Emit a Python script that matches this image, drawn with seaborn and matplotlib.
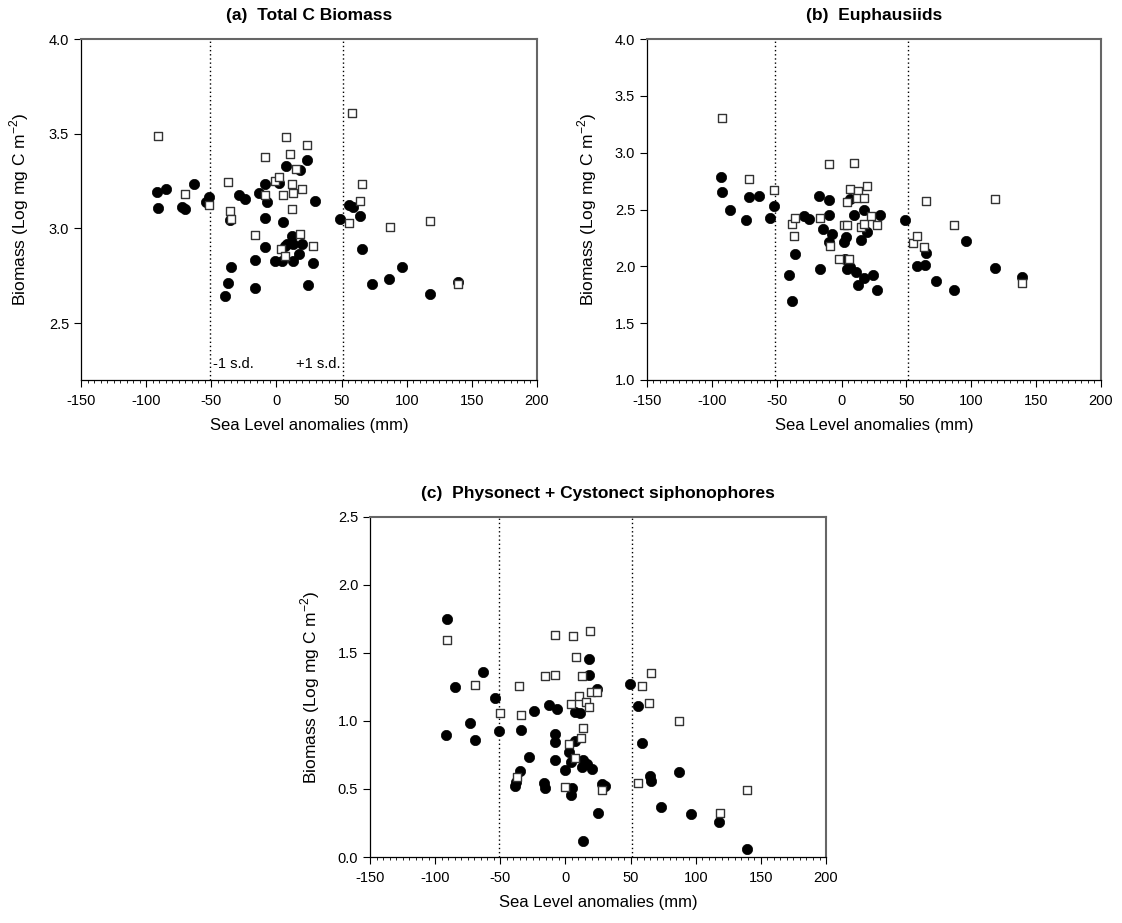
import numpy as np
import pandas as pd
import matplotlib
matplotlib.use("Agg")
import matplotlib.pyplot as plt
import seaborn as sns
from matplotlib.ticker import MultipleLocator, FormatStrFormatter

# ---- panel (a) Total C biomass ----
a_circ_x = [-91.9, -84.8, -63.3, -90.7, -72.7, -70.2, -51.5, -54.1, -35.6, -28.5, -24.1, -13.6,
            -8.6, -7.0, -8.8, 4.8, 2.2, 7.6, 18.1, 23.7, 29.8, -8.8, -16.7, -35.1, -37.2, -39.7,
            -16.2, -1.1, 4.3, 12.9, 17.5, 27.8, 24.5, 11.9, 7.9, 12.9, 19.8, 6.3, 49.0, 55.4,
            58.5, 64.1, 65.4, 73.1, 86.6, 96.4, 118.1, 139.1]
a_circ_y = [3.19, 3.21, 3.235, 3.108, 3.113, 3.105, 3.166, 3.138, 3.043, 3.175, 3.158, 3.188,
            3.237, 3.138, 3.055, 3.032, 3.24, 3.33, 3.31, 3.364, 3.147, 2.90, 2.835, 2.798, 2.713,
            2.644, 2.688, 2.826, 2.826, 2.83, 2.863, 2.819, 2.702, 2.958, 2.92, 2.92, 2.92, 2.91,
            3.052, 3.122, 3.112, 3.064, 2.891, 2.709, 2.734, 2.798, 2.656, 2.716]
a_sq_x = [-90.9, -70.2, -51.5, -37.4, -35.6, -35.1, -16.2, -8.8, -8.6, -1.4, 2.2, 4.8, 7.3, 10.2,
          15.0, 12.2, 12.5, 19.6, 23.4, 11.9, 17.8, 3.7, 6.6, 27.8, 58.2, 65.4, 63.9, 55.4, 86.9,
          118.1, 139.1]
a_sq_y = [3.49, 3.182, 3.124, 3.244, 3.09, 3.048, 2.965, 3.378, 3.177, 3.25, 3.27, 3.177, 3.483,
          3.391, 3.315, 3.237, 3.188, 3.209, 3.439, 3.103, 2.969, 2.893, 2.854, 2.907, 3.608,
          3.235, 3.147, 3.027, 3.007, 3.038, 2.705]

# ---- panel (b) Euphausiids ----
b_circ_x = [-93.2, -91.9, -85.8, -73.7, -71.1, -63.9, -54.9, -52.1, -40.8, -38.0, -35.9, -29.2,
            -24.9, -17.4, -16.9, -14.1, -9.5, -9.5, -7.7, -9.5, 2.1, 3.4, 2.9, 3.9, 6.5, 6.5, 9.6,
            11.4, 12.5, 14.8, 17.1, 17.3, 19.6, 24.0, 27.3, 29.4, 48.7, 57.9, 64.1, 65.1, 73.1,
            86.7, 96.2, 118.0, 139.1]
b_circ_y = [2.787, 2.652, 2.50, 2.404, 2.608, 2.623, 2.424, 2.535, 1.927, 1.696, 2.108, 2.447,
            2.418, 2.617, 1.976, 2.327, 2.582, 2.453, 2.283, 2.216, 2.213, 2.26, 2.061, 1.974,
            1.997, 2.594, 2.456, 1.953, 1.833, 2.234, 1.898, 2.50, 2.304, 1.924, 1.789, 2.453,
            2.412, 2.003, 2.015, 2.117, 1.871, 1.789, 2.225, 1.982, 1.91]
b_sq_x = [-91.9, -71.1, -52.3, -38.0, -35.9, -36.4, -16.9, -9.5, -9.2, -1.8, 1.6, 3.9, 5.9, 4.4,
          6.8, 9.6, 12.5, 11.9, 17.1, 19.4, 14.8, 17.3, 22.9, 27.3, 55.3, 58.2, 63.8, 65.1, 86.5,
          118.0, 139.1]
b_sq_y = [3.304, 2.772, 2.675, 2.374, 2.427, 2.263, 2.424, 2.898, 2.175, 2.067, 2.365, 2.365,
          2.061, 2.57, 2.684, 2.910, 2.667, 2.60, 2.60, 2.705, 2.348, 2.374, 2.441, 2.365, 2.204,
          2.269, 2.173, 2.579, 2.362, 2.596, 1.851]

# ---- panel (c) Physonect + Cystonect siphonophores ----
c_circ_x = [-63.3, -85.1, -54.2, -72.9, -91.7, -69.5, -51.1, -34.5, -35.0, -37.6, -39.1, -27.8,
            -23.8, -13.0, -6.6, -8.1, -8.4, -8.1, -16.6, -15.8, -0.5, 2.9, 4.6, 5.4, 4.4, 7.2,
            7.5, 10.8, 13.1, 12.6, 16.2, 20.5, 13.2, 24.7, 28.3, 30.1, 18.1, 17.8, 23.9, 49.2,
            55.9, 58.7, 64.6, 65.9, 73.3, 87.1, 96.5, 118.0, 139.3, -90.6]
c_circ_y = [1.363, 1.25, 1.169, 0.988, 0.895, 0.863, 0.926, 0.931, 0.632, 0.554, 0.522, 0.738,
            1.071, 1.115, 1.088, 0.902, 0.846, 0.713, 0.542, 0.505, 0.637, 0.772, 0.696, 0.505,
            0.456, 0.853, 1.064, 1.057, 0.713, 0.66, 0.682, 0.647, 0.115, 0.326, 0.539, 0.522,
            1.34, 1.456, 1.233, 1.274, 1.11, 0.836, 0.598, 0.561, 0.37, 0.625, 0.314, 0.26,
            0.057, 1.748]
c_sq_x = [-69.5, -35.7, -50.1, -34.5, -15.6, -8.1, 12.9, 10.1, 4.0, 15.6, 17.9, 19.7, 23.9, 13.2,
          12.2, 2.9, 7.0, -37.2, -0.5, 28.1, 59.0, 65.7, 64.1, 86.9, 55.5, 118.3, 139.0, -8.0,
          6.1, 19.2, 8.0, -90.6]
c_sq_y = [1.267, 1.255, 1.056, 1.044, 1.333, 1.341, 1.331, 1.184, 1.123, 1.142, 1.105, 1.211,
          1.211, 0.951, 0.877, 0.831, 0.73, 0.586, 0.517, 0.493, 1.255, 1.355, 1.132, 1.002,
          0.542, 0.326, 0.495, 1.632, 1.627, 1.664, 1.468, 1.598]

sd_lines = [-51, 51]

sns.set_style("ticks")
plt.rcParams["font.family"] = ["Liberation Sans", "DejaVu Sans"]
plt.rcParams["axes.unicode_minus"] = False
plt.rcParams["mathtext.fontset"] = "custom"
plt.rcParams["mathtext.rm"] = "Liberation Sans"
for key in ["text.color", "axes.labelcolor", "xtick.color", "ytick.color",
            "xtick.labelcolor", "ytick.labelcolor"]:
    plt.rcParams[key] = "black"

fig = plt.figure(figsize=(11.22, 9.23), dpi=100)
ax_a = fig.add_axes([0.0722, 0.5883, 0.4064, 0.3694])
ax_b = fig.add_axes([0.5766, 0.5883, 0.4046, 0.3694])
ax_c = fig.add_axes([0.3298, 0.0715, 0.4064, 0.3684])

panels = [
    (ax_a, "(a)  Total C Biomass", a_circ_x, a_circ_y, a_sq_x, a_sq_y, (2.2, 4.0), [2.5, 3.0, 3.5, 4.0], 13),
    (ax_b, "(b)  Euphausiids", b_circ_x, b_circ_y, b_sq_x, b_sq_y, (1.0, 4.0),
     np.arange(1.0, 4.01, 0.5), 11),
    (ax_c, "(c)  Physonect + Cystonect siphonophores", c_circ_x, c_circ_y, c_sq_x, c_sq_y,
     (0.0, 2.5), np.arange(0.0, 2.51, 0.5), 11),
]

for ax, title, cx, cy, sx, sy, ylim, yticks, ypad in panels:
    for v in sd_lines:
        ax.axvline(v, color="black", linestyle=(0, (1, 2)), linewidth=1, zorder=1)
    sns.scatterplot(x=cx, y=cy, ax=ax, marker="o", s=55, color="black",
                    edgecolor="black", linewidth=0.5, zorder=3)
    sns.scatterplot(x=sx, y=sy, ax=ax, marker="s", s=32, color="white",
                    edgecolor="#333333", linewidth=1.0, zorder=4)
    ax.set_xlim(-150, 200)
    ax.set_ylim(*ylim)
    ax.set_yticks(yticks)
    ax.yaxis.set_major_formatter(FormatStrFormatter("%.1f"))
    ax.xaxis.set_major_locator(MultipleLocator(50))
    ax.xaxis.set_minor_locator(MultipleLocator(5))
    ax.tick_params(axis="both", which="major", labelsize=10.5, length=5, width=0.8,
                   direction="out", color="black", labelcolor="black")
    ax.tick_params(axis="x", which="major", pad=5)
    ax.tick_params(axis="x", which="minor", length=2.5, width=0.6, direction="out")
    for side in ["left", "bottom"]:
        ax.spines[side].set_color("black")
        ax.spines[side].set_linewidth(0.9)
    for side in ["top", "right"]:
        ax.spines[side].set_color("#666666")
        ax.spines[side].set_linewidth(1.5)
    ax.set_xlabel("Sea Level anomalies (mm)", fontsize=12, labelpad=7, color="black")
    ax.set_ylabel("Biomass (Log mg C m$^{\\mathrm{-2}}$)", fontsize=12.5, labelpad=ypad,
                  color="black")
    ax.set_title(title, fontsize=12.5, fontweight="bold", pad=14, color="black")

ax_a.text(-48.8, 2.286, "-1 s.d.", fontsize=10.5, ha="left", va="center")
ax_a.text(49.0, 2.286, "+1 s.d.", fontsize=10.5, ha="right", va="center")

fig.savefig("out.png", dpi=100)
